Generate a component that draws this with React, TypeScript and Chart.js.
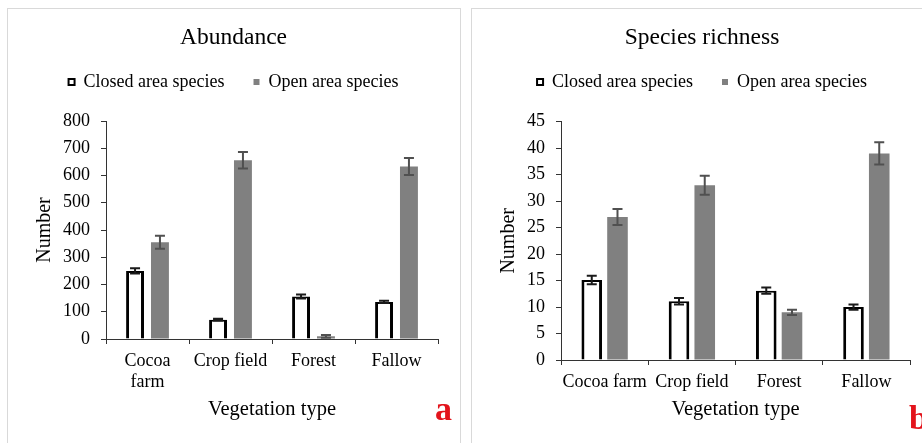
import React, { useEffect, useRef } from 'react';
import { Chart, registerables } from 'chart.js';

Chart.register(...registerables);

const FONT = '"Liberation Serif", "Times New Roman", serif';
const AXIS = '#333333';
const TEXT = '#000000';

const seriesNames = ['Closed area species', 'Open area species'];

const abundanceCategories: (string | string[])[] = [['Cocoa', 'farm'], 'Crop field', 'Forest', 'Fallow'];
const abundanceClosed = [250, 71, 156, 136];
const abundanceClosedErr = [10, 3, 7, 4];
const abundanceOpen = [355, 656, 10, 633];
const abundanceOpenErr = [24, 30, 5, 31];
const abundanceTicks = [0, 100, 200, 300, 400, 500, 600, 700, 800];

const richnessCategories: (string | string[])[] = ['Cocoa farm', 'Crop field', 'Forest', 'Fallow'];
const richnessClosed = [15.1, 11.1, 13.1, 10];
const richnessClosedErr = [0.8, 0.6, 0.6, 0.5];
const richnessOpen = [27, 33, 9, 39];
const richnessOpenErr = [1.5, 1.8, 0.5, 2.1];
const richnessTicks = [0, 5, 10, 15, 20, 25, 30, 35, 40, 45];

const errorBarPlugin = {
  id: 'errorBars',
  afterDatasetsDraw(chart: any, _args: any, opts: any) {
    const ctx = chart.ctx;
    const yScale = chart.scales.y;
    chart.data.datasets.forEach((ds: any, i: number) => {
      const meta = chart.getDatasetMeta(i);
      const errs: number[] = opts.errors[i];
      meta.data.forEach((bar: any, j: number) => {
        const v = ds.data[j];
        const e = errs[j];
        const yTop = yScale.getPixelForValue(v + e);
        const yBot = yScale.getPixelForValue(Math.max(0, v - e));
        const x = bar.x;
        const cap = opts.cap;
        ctx.save();
        ctx.strokeStyle = opts.colors[i];
        ctx.lineWidth = opts.width;
        ctx.beginPath();
        ctx.moveTo(x, yTop);
        ctx.lineTo(x, yBot);
        ctx.moveTo(x - cap, yTop);
        ctx.lineTo(x + cap, yTop);
        ctx.moveTo(x - cap, yBot);
        ctx.lineTo(x + cap, yBot);
        ctx.stroke();
        ctx.restore();
      });
    });
  },
};

interface PanelProps {
  left: number;
  top: number;
  width: number;
  height: number;
  title: string;
  categories: (string | string[])[];
  closed: number[];
  open: number[];
  closedErr: number[];
  openErr: number[];
  ticks: number[];
  axisLeft: number;
  xHeight: number;
  sidePad: number;
  spacer: number;
  catPct: number;
  barPct: number;
}

function Panel(p: PanelProps) {
  const ref = useRef<HTMLCanvasElement>(null);
  useEffect(() => {
    const chart = new Chart(ref.current as HTMLCanvasElement, {
      type: 'bar',
      data: {
        labels: p.categories as any,
        datasets: [
          {
            label: seriesNames[0],
            data: p.closed,
            backgroundColor: '#ffffff',
            borderColor: '#000000',
            borderWidth: { top: 2, left: 3, right: 3, bottom: 0 } as any,
            borderSkipped: 'start',
            categoryPercentage: p.catPct,
            barPercentage: p.barPct,
          },
          {
            label: seriesNames[1],
            data: p.open,
            backgroundColor: '#808080',
            borderColor: '#808080',
            borderWidth: 0,
            categoryPercentage: p.catPct,
            barPercentage: p.barPct,
          },
        ],
      },
      plugins: [errorBarPlugin as any],
      options: {
        responsive: false,
        animation: false,
        events: [],
        layout: { padding: { left: p.sidePad, right: p.sidePad, top: 0, bottom: 0 } },
        plugins: {
          tooltip: { enabled: false },
          title: {
            display: true,
            text: p.title,
            color: TEXT,
            font: { family: FONT, size: 23.5, weight: 'normal', lineHeight: 0.5 },
            padding: { top: 23.25, bottom: 0 },
          },
          legend: {
            display: true,
            position: 'top',
            labels: {
              boxWidth: 6,
              boxHeight: 6,
              padding: 29,
              color: TEXT,
              font: { family: FONT, size: 18 },
            },
          },
          subtitle: {
            display: true,
            text: '',
            weight: 500,
            font: { family: FONT, size: 10, lineHeight: 1 },
            padding: { top: p.spacer - 10, bottom: 0 },
          },
          errorBars: {
            errors: [p.closedErr, p.openErr],
            colors: ['#1a1a1a', '#505050'],
            cap: 5,
            width: 2,
          },
        } as any,
        scales: {
          x: {
            ticks: {
              color: TEXT,
              font: { family: FONT, size: 18, lineHeight: 1.2 },
              padding: 6.2,
              maxRotation: 0,
              autoSkip: false,
            },
            grid: { drawOnChartArea: false, drawTicks: true, tickLength: 5, color: AXIS, offset: true },
            border: { display: true, color: AXIS, width: 1 },
            title: {
              display: true,
              text: 'Vegetation type',
              color: TEXT,
              font: { family: FONT, size: 20.5 },
              padding: { top: 0, bottom: 21.2 },
            },
            afterFit: (s: any) => {
              s.height = p.xHeight;
            },
          },
          y: {
            min: p.ticks[0],
            max: p.ticks[p.ticks.length - 1],
            afterBuildTicks: (s: any) => {
              s.ticks = p.ticks.map((v) => ({ value: v }));
            },
            ticks: {
              color: TEXT,
              font: { family: FONT, size: 18 },
              padding: 11,
            },
            grid: { drawOnChartArea: false, drawTicks: true, tickLength: 5, color: AXIS },
            border: { display: true, color: AXIS, width: 1 },
            title: {
              display: true,
              text: 'Number',
              color: TEXT,
              font: { family: FONT, size: 20 },
              padding: { top: 25 - p.sidePad, bottom: 0 },
            },
            afterFit: (s: any) => {
              s.width = p.axisLeft - p.sidePad;
            },
          },
        },
      },
    });
    return () => chart.destroy();
  }, []);
  return (
    <canvas
      ref={ref}
      width={p.width}
      height={p.height}
      style={{ position: 'absolute', left: p.left, top: p.top, width: p.width, height: p.height }}
    />
  );
}

const letterStyle: React.CSSProperties = {
  position: 'absolute',
  fontFamily: FONT,
  fontWeight: 'bold',
  fontSize: 34,
  lineHeight: '34px',
  color: '#e3141c',
};

export default function App() {
  return (
    <div
      style={{
        position: 'fixed',
        left: 0,
        top: 0,
        width: 922,
        height: 443,
        overflow: 'hidden',
        background: '#ffffff',
      }}
    >
      <div
        style={{
          position: 'absolute',
          left: 7,
          top: 8,
          width: 454,
          height: 460,
          border: '1px solid #d9d9d9',
          boxSizing: 'border-box',
        }}
      />
      <div
        style={{
          position: 'absolute',
          left: 471,
          top: 8,
          width: 470,
          height: 460,
          border: '1px solid #d9d9d9',
          boxSizing: 'border-box',
        }}
      />
      <Panel
        left={8}
        top={9}
        width={451}
        height={434}
        title="Abundance"
        categories={abundanceCategories}
        closed={abundanceClosed}
        open={abundanceOpen}
        closedErr={abundanceClosedErr}
        openErr={abundanceOpenErr}
        ticks={abundanceTicks}
        axisLeft={98}
        xHeight={104}
        sidePad={21}
        spacer={20}
        catPct={0.6}
        barPct={0.72}
      />
      <Panel
        left={472}
        top={9}
        width={460}
        height={434}
        title="Species richness"
        categories={richnessCategories}
        closed={richnessClosed}
        open={richnessOpen}
        closedErr={richnessClosedErr}
        openErr={richnessOpenErr}
        ticks={richnessTicks}
        axisLeft={89}
        xHeight={83}
        sidePad={22}
        spacer={20.7}
        catPct={0.59}
        barPct={0.8}
      />
      <span style={{ ...letterStyle, left: 435, top: 392 }}>a</span>
      <span style={{ ...letterStyle, left: 909, top: 401 }}>b</span>
    </div>
  );
}
